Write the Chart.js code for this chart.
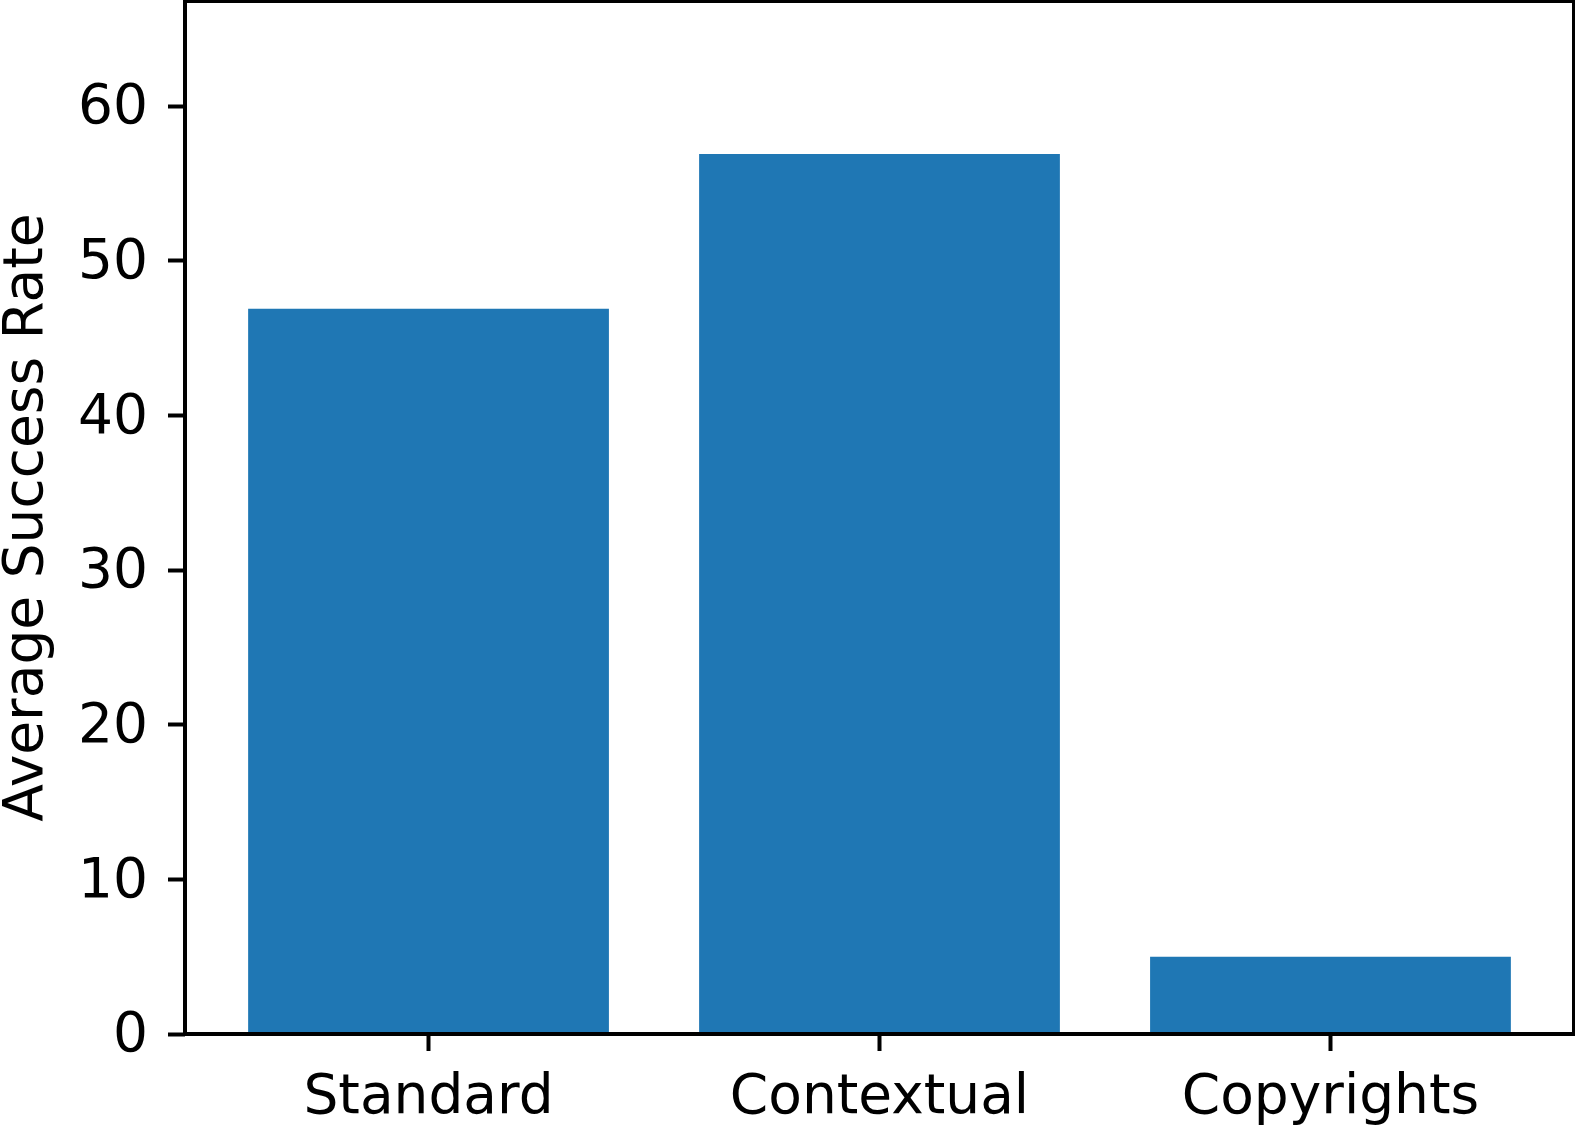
<!DOCTYPE html>
<html>
<head>
<meta charset="utf-8">
<title>Average Success Rate</title>
<script src="https://cdn.jsdelivr.net/npm/chart.js@4/dist/chart.umd.min.js"></script>
<style>
  html, body { margin: 0; padding: 0; background: #fff; }
  #wrap { width: 1575px; height: 1128px; }
</style>
</head>
<body>
<div id="wrap"><canvas id="success-rate-chart" width="1575" height="1128"></canvas></div>
<script>
// values
var categories = ["Standard", "Contextual", "Copyrights"];
var successRates = [46.9, 56.9, 5.0];
var yTickValues = [0, 10, 20, 30, 40, 50, 60];
var yMax = 66.8;

var barColor = "#1f77b4";
var fontFamily = "'DejaVu Sans', sans-serif";

// draws the four black spines around the plot area, like matplotlib
var spinesPlugin = {
	id: "spines",
	afterDatasetsDraw: function(chart){
		var a = chart.chartArea;
		var ctx = chart.ctx;
		ctx.save();
		ctx.strokeStyle = "#000";
		ctx.lineWidth = 4;
		ctx.strokeRect(a.left, a.top, a.right - a.left, a.bottom - a.top);
		ctx.restore();
	}
};

function drawChart(){

	var points = [];
	$each(categories, function(i, name){
		points.push({x: i, y: successRates[i]});
	});

	new Chart("success-rate-chart", {
		type: "bar",
		data: {
			datasets: [{
				data: points,
				backgroundColor: barColor,
				borderWidth: 0,
				barPercentage: 0.8,
				categoryPercentage: 1.0
			}]
		},
		plugins: [spinesPlugin],
		options: {
			responsive: false,
			devicePixelRatio: 1,
			animation: false,
			layout: { padding: { top: 1, right: 1, bottom: 0, left: 0 } },
			plugins: {
				legend: { display: false },
				tooltip: { enabled: false }
			},
			scales: {
				x: {
					type: "linear",
					min: -0.54,
					max: 2.54,
					offset: false,
					border: { display: false },
					grid: {
						offset: false,
						drawOnChartArea: false,
						drawTicks: true,
						tickLength: 17,
						tickWidth: 4,
						tickColor: "#000"
					},
					ticks: {
						color: "#000",
						padding: 15,
						maxRotation: 0,
						font: { family: fontFamily, size: 55 },
						callback: function(value){ return categories[value]; }
					},
					afterBuildTicks: function(scale){
						scale.ticks = categories.map(function(c, i){ return {value: i}; });
					},
					afterFit: function(scale){
						scale.height = 94;
						scale.paddingLeft = 0;
						scale.paddingRight = 0;
					}
				},
				y: {
					min: 0,
					max: yMax,
					border: { display: false },
					grid: {
						drawOnChartArea: false,
						drawTicks: true,
						tickLength: 17,
						tickWidth: 4,
						tickColor: "#000"
					},
					ticks: {
						color: "#000",
						padding: 20,
						labelOffset: 3,
						font: { family: fontFamily, size: 55 }
					},
					title: {
						display: true,
						text: "Average Success Rate",
						color: "#000",
						padding: 0,
						font: { family: fontFamily, size: 55, lineHeight: 1.0 }
					},
					afterBuildTicks: function(scale){
						scale.ticks = yTickValues.map(function(v){ return {value: v}; });
					},
					afterFit: function(scale){
						scale.width = 185;
						scale.paddingTop = 0;
						scale.paddingBottom = 0;
					}
				}
			}
		}
	});
}

function $each(list, fn){
	for (var i = 0; i < list.length; i++) fn(i, list[i]);
}

drawChart();
</script>
</body>
</html>
